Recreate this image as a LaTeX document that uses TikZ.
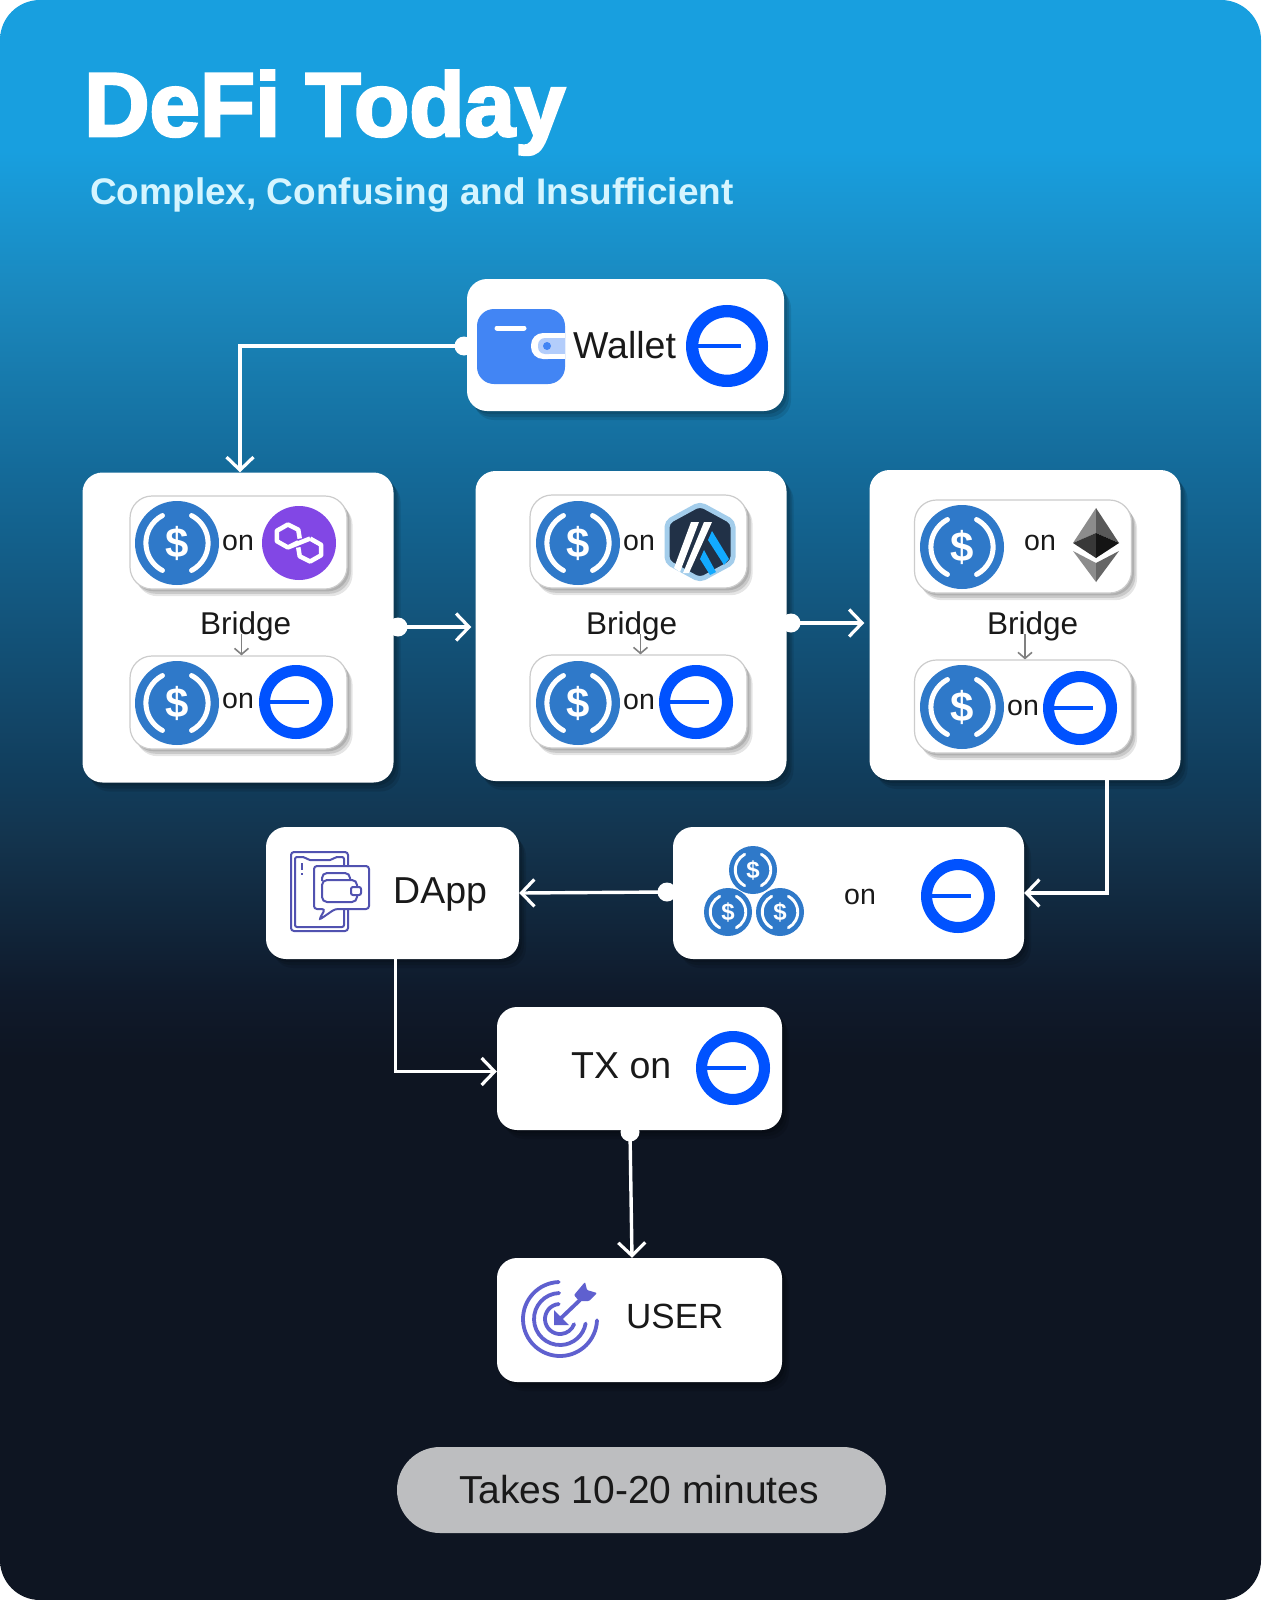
\documentclass[tikz,border=0pt]{standalone}
\usepackage{fontspec}
\setmainfont{Liberation Sans}
\newfontfamily\titlefont[BoldFeatures={FakeBold=3}]{Liberation Sans}
\usepackage{tikz}
\usetikzlibrary{arrows.meta,positioning,shadows}

\definecolor{usdcblue}{HTML}{2F79C9}
\definecolor{baseblue}{HTML}{0052FF}
\definecolor{polypurple}{HTML}{8247E5}
\definecolor{walletblue}{HTML}{4285F4}
\definecolor{walletpale}{HTML}{B3CDFB}
\definecolor{arbdark}{HTML}{213147}
\definecolor{arbedge}{HTML}{A3CDEB}
\definecolor{arbblue}{HTML}{12AAFF}
\definecolor{iconviolet}{HTML}{5F60CF}
\definecolor{subcyan}{HTML}{D5F5FF}
\definecolor{pillgrey}{HTML}{BDBEC0}

\pgfdeclareverticalshading{bgshade}{100bp}{
	rgb(0bp)=(.055,.082,.133);
	rgb(41.9bp)=(.055,.082,.133);
	rgb(44bp)=(.059,.102,.169);
	rgb(49bp)=(.075,.208,.31);
	rgb(50.3bp)=(.067,.231,.349);
	rgb(60.3bp)=(.078,.416,.6);
	rgb(65.6bp)=(.102,.529,.737);
	rgb(70.3bp)=(.094,.624,.875);
	rgb(100bp)=(.094,.624,.875)}

\tikzset{
	softshadow/.style={
		drop shadow={shadow xshift=#1*3pt, shadow yshift=-#1*3pt, opacity=.12, fill=black},
		drop shadow={shadow xshift=#1*5pt, shadow yshift=-#1*6pt, opacity=.12, fill=black},
		drop shadow={shadow xshift=#1*7pt, shadow yshift=-#1*9pt, opacity=.10, fill=black}},
	card/.style={fill=white, rounded corners=20pt, inner sep=0pt, softshadow=1},
	innercard/.style={draw=black!20, line width=1.2pt, fill=white, rounded corners=22pt,
		minimum width=217pt, minimum height=93pt, inner sep=0pt, softshadow=.8},
	dot/.style={circle, fill=white, minimum size=19pt, inner sep=0pt},
	flow/.style={draw=white, line width=3.4pt, -{Straight Barb[length=13pt,width=27pt,line width=3.2pt]}},
	bridgeflow/.style={draw=black!50, line width=1.6pt, -{Straight Barb[length=6pt,width=14pt]}},
	txt/.style={anchor=base west, inner sep=0pt, text=black!90},
	ontxt/.style={txt, font=\fontsize{28.5}{28.5}\selectfont},
	bridgetxt/.style={txt, font=\fontsize{31.5}{31.5}\selectfont},
	bigtxt/.style={txt, font=\fontsize{37.5}{37.5}\selectfont}
}

% icons, x y radius
\newcommand{\usdcicon}[3]{
	\begin{scope}[shift={(#1,#2)},x=#3pt,y=-#3pt]
		\fill[usdcblue] (0,0) circle[radius=1];
		\draw[white, line width=.12*#3pt, line cap=round] (118:.74) arc[start angle=118,end angle=242,radius=.74];
		\draw[white, line width=.12*#3pt, line cap=round] (-62:.74) arc[start angle=-62,end angle=62,radius=.74];
		\node[text=white, inner sep=0pt, font=\bfseries\fontsize{#3}{#3}\selectfont] (dollar#1x#2) at (0,0) {\$};
	\end{scope}
}
\newcommand{\baseicon}[3]{
	\begin{scope}[shift={(#1,#2)},x=#3pt,y=-#3pt]
		\draw[baseblue, line width=.3*#3pt] (0,0) circle[radius=.85];
		\draw[baseblue, line width=.1*#3pt] (-.72,0) -- (.34,0);
	\end{scope}
}

\begin{document}
\begin{tikzpicture}[x=1pt,y=-1pt]
	\useasboundingbox (0,0) rectangle (1261,1600);
	\fill[white] (0,0) rectangle (1261,1600);
	\shade[shading=bgshade, rounded corners=40pt] (0,0) rectangle (1261,1600);
	
	% heading
	\node[anchor=base west, inner sep=0pt, text=white, font=\titlefont\bfseries\fontsize{90.5}{90.5}\selectfont] (title) at (84,136) {DeFi Today};
	\node[anchor=base west, inner sep=0pt, text=subcyan, font=\bfseries\fontsize{37}{37}\selectfont] (subtitle) at (90,204) {Complex, Confusing and Insufficient};
	
	% boxes
	\node[card, minimum width=317pt, minimum height=132pt] (walletbox) at (625.5,345) {};
	\node[card, minimum width=311pt, minimum height=310pt] (polycard) at (238,627.5) {};
	\node[card, minimum width=311pt, minimum height=310pt] (arbcard) at (631,626) {};
	\node[card, minimum width=311pt, minimum height=310pt] (ethcard) at (1025,625) {};
	\node[card, minimum width=253pt, minimum height=132pt] (dappbox) at (392.5,893) {};
	\node[card, minimum width=351pt, minimum height=132pt] (coinbox) at (848.5,893) {};
	\node[card, minimum width=285pt, minimum height=123pt] (txbox) at (639.5,1068.5) {};
	\node[card, minimum width=285pt, minimum height=124pt] (userbox) at (639.5,1320) {};
	\node[fill=pillgrey, rounded corners=43pt, minimum width=489pt, minimum height=86pt, inner sep=0pt] (timepill) at (641.5,1490) {};
	
	\node[innercard] (polyup) at (238.5,542.5) {};
	\node[innercard] (polydown) at (238.5,702.5) {};
	\node[innercard] (arbup) at (638.5,541.5) {};
	\node[innercard] (arbdown) at (638.5,701.5) {};
	\node[innercard] (ethup) at (1023,546.5) {};
	\node[innercard] (ethdown) at (1023,706.5) {};
	
	% logos
	\usdcicon{177}{543}{42}
	\usdcicon{177}{703}{42}
	\usdcicon{578}{543}{42}
	\usdcicon{578}{703}{42}
	\usdcicon{962}{547}{42}
	\usdcicon{962}{707}{42}
	\baseicon{727}{346}{41}
	\baseicon{296}{702}{37}
	\baseicon{696}{702}{37}
	\baseicon{1080}{708}{37}
	\baseicon{958}{896}{37}
	\baseicon{733}{1068}{37}
	\usdcicon{753}{870}{24}
	\usdcicon{728}{912}{24}
	\usdcicon{780}{912}{24}
	
	% wallet
	\fill[walletblue, rounded corners=17pt] (477,309) rectangle (565,384);
	\draw[white, line width=5pt, line cap=round] (497,328) -- (524,328);
	\fill[white, rounded corners=12pt] (531,333) rectangle (560,359);
	\fill[white] (546,333) rectangle (565,359);
	\fill[walletpale, rounded corners=7pt] (538,338) rectangle (556,354);
	\fill[walletpale] (547,338) rectangle (565,354);
	\fill[walletblue] (547,346) circle[radius=4];
	
	% polygon
	\begin{scope}[shift={(299,543)},x=37pt,y=-37pt]
		\fill[polypurple] (0,0) circle[radius=1];
		\draw[white, line width=4.5pt, line join=round]
			(.02,-.12) -- (-.02,-.36) -- (-.3,-.5) -- (-.6,-.33) -- (-.6,-.05) -- (-.3,.12) -- (-.02,-.02)
			(.3,-.12) -- (.6,.05) -- (.6,.33) -- (.3,.5) -- (.02,.36) -- (-.02,.12)
			(-.3,.12) -- (.3,-.12);
	\end{scope}
	
	% arbitrum
	\begin{scope}[shift={(700,542)}]
		\draw[arbedge, fill=arbdark, line width=5pt, rounded corners=5pt]
			(0,-38) -- (33,-20) -- (33,20) -- (0,38) -- (-33,20) -- (-33,-20) -- cycle;
		\fill[white] (-9,-20) -- (-1,-20) -- (-20,30) -- (-26,26) -- cycle;
		\fill[white] (4,-20) -- (12,-20) -- (-11,31) -- (-17,31) -- cycle;
		\fill[arbblue] (12,-11) -- (29,17) -- (24,23) -- (8,-2) -- cycle;
		\fill[arbblue] (4,8) -- (16,30) -- (10,33) -- (0,17) -- cycle;
	\end{scope}
	
	% ethereum
	\fill[black!45] (1096,508) -- (1073,543) -- (1096,533) -- cycle;
	\fill[black!65] (1096,508) -- (1119,543) -- (1096,533) -- cycle;
	\fill[black!78] (1073,543) -- (1096,533) -- (1096,558) -- cycle;
	\fill[black!92] (1119,543) -- (1096,533) -- (1096,558) -- cycle;
	\fill[black!45] (1073,551) -- (1096,563) -- (1096,582) -- cycle;
	\fill[black!60] (1119,551) -- (1096,563) -- (1096,582) -- cycle;
	
	% dapp icon
	\begin{scope}[iconviolet!85!black, line width=2pt]
		\draw[rounded corners=3pt] (291,852) rectangle (348,931);
		\draw[rounded corners=2pt] (295,857) -- (305,857) -- (308,860) -- (332,860) -- (335,857) -- (344,857) -- (344,927) -- (295,927) -- cycle;
		\draw (302,863) -- (302,870) (302,873) -- (302,875);
		\draw[fill=white, rounded corners=3pt] (314,866) -- (369,866) -- (369,909) -- (335,909) -- (319,920) -- (325,909) -- (314,909) -- cycle;
		\draw[fill=white, rounded corners=5pt] (322,881) -- (322,873) -- (350,873) -- (350,881);
		\draw[fill=white, rounded corners=5pt] (322,880) rectangle (357,902);
		\draw[fill=white, rounded corners=2pt] (351,887) rectangle (361,895);
	\end{scope}
	
	% target icon
	\begin{scope}[shift={(560,1319)},y=1pt,iconviolet]
		\draw[line width=3.8pt, line cap=round] (92:37) arc[start angle=92,end angle=358,radius=37];
		\draw[line width=3.8pt, line cap=round] (92:26) arc[start angle=92,end angle=350,radius=26];
		\draw[line width=3.8pt, line cap=round] (95:15) arc[start angle=95,end angle=340,radius=15];
		\draw[line width=3.8pt] (-1,-1) -- (20,19);
		\fill (-6,-6) -- (9,-6) -- (-6,9) -- cycle;
		\fill[rounded corners=1pt] (25,37) -- (27,29) -- (37,26) -- (29,18) -- (19,18) -- (14,24) -- cycle;
	\end{scope}
	
	% texts
	\node[bigtxt] (walletlabel) at (573,358) {Wallet};
	\node[ontxt] (polyon) at (222,550) {on};
	\node[ontxt] (polyon2) at (222,708) {on};
	\node[ontxt] (arbon) at (623,550) {on};
	\node[ontxt] (arbon2) at (623,709) {on};
	\node[ontxt] (ethon) at (1024,550) {on};
	\node[ontxt] (ethon2) at (1007,715) {on};
	\node[bridgetxt] (bridgepoly) at (200,634) {Bridge};
	\node[bridgetxt] (bridgearb) at (586,634) {Bridge};
	\node[bridgetxt] (bridgeeth) at (987,634) {Bridge};
	\node[txt, font=\fontsize{37.5}{37.5}\selectfont] (dapplabel) at (393,903) {DApp};
	\node[ontxt] (coinon) at (844,904) {on};
	\node[bigtxt] (txlabel) at (571,1078) {TX on};
	\node[txt, font=\fontsize{35}{35}\selectfont] (userlabel) at (626,1328) {USER};
	\node[txt, font=\fontsize{39}{39}\selectfont] (timelabel) at (459,1503) {Takes 10-20 minutes};
	
	% connectors
	\node[dot] (walletdot) at (464,346) {};
	\node[dot] (polydot) at (398,627) {};
	\node[dot] (arbdot) at (791,623) {};
	\node[dot] (coindot) at (667,892) {};
	\node[dot] (txdot) at (630,1132) {};
	
	\draw[flow] (walletdot.center) -| ([xshift=2pt]polycard.north);
	\draw[flow] (polydot.center) -- ([xshift=-4pt]polydot -| arbcard.west);
	\draw[flow] (arbdot.center) -- ([xshift=-5pt]arbdot -| ethcard.west);
	\draw[flow] ([xshift=82pt]ethcard.south) |- (coinbox.east);
	\draw[flow] (coindot.center) -- (dappbox.east);
	\draw[flow] ([xshift=3pt]dappbox.south) |- ([yshift=-3pt]txbox.west);
	\draw[flow] (txdot.center) -- ([xshift=2pt]txdot |- userbox.north);
	
	\draw[bridgeflow] ([xshift=3pt]polydown.north |- bridgepoly.base) -- ([xshift=3pt]polydown.north);
	\draw[bridgeflow] ([xshift=2pt]arbdown.north |- bridgearb.base) -- ([xshift=2pt]arbdown.north);
	\draw[bridgeflow] ([xshift=2pt]ethdown.north |- bridgeeth.base) -- ([xshift=2pt]ethdown.north);
\end{tikzpicture}
\end{document}
